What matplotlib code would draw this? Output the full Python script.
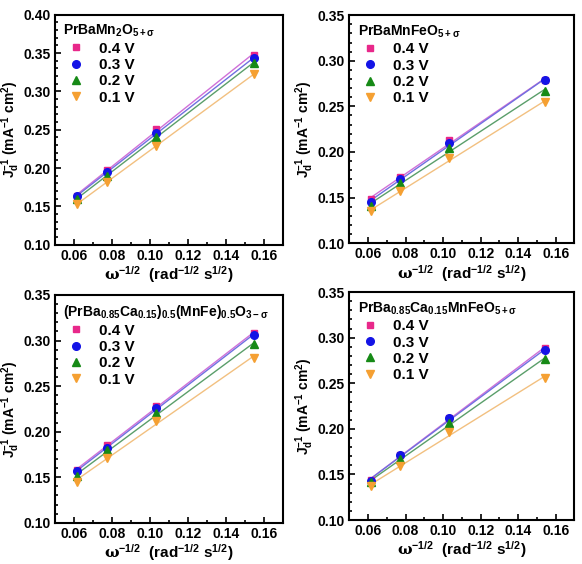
import numpy as np
import matplotlib
matplotlib.use('Agg')
import matplotlib.pyplot as plt
from matplotlib.ticker import MultipleLocator

plt.rcParams['font.family'] = ['Liberation Sans', 'DejaVu Sans']
plt.rcParams['font.weight'] = 'bold'
plt.rcParams['axes.labelweight'] = 'bold'
plt.rcParams['mathtext.fontset'] = 'custom'
plt.rcParams['mathtext.rm'] = 'Liberation Sans:bold'
plt.rcParams['mathtext.bf'] = 'Liberation Sans:bold'
plt.rcParams['mathtext.it'] = 'Liberation Sans:bold'
plt.rcParams['mathtext.sf'] = 'DejaVu Serif'

# omega^-1/2 for 2500, 1600, 900, 400 rpm
omega = [0.0618, 0.0773, 0.1030, 0.1545]
voltages = ['0.4 V', '0.3 V', '0.2 V', '0.1 V']

titles = [r'PrBaMn$_2$O$_{5+\sigma}$',
          r'PrBaMnFeO$_{5+\sigma}$',
          r'(PrBa$_{0.85}$Ca$_{0.15}$)$_{0.5}$(MnFe)$_{0.5}$O$_{3-\sigma}$',
          r'PrBa$_{0.85}$Ca$_{0.15}$MnFeO$_{5+\sigma}$']

pbm_04 = [0.164, 0.197, 0.251, 0.348]
pbm_03 = [0.163, 0.195, 0.246, 0.343]
pbm_02 = [0.160, 0.190, 0.241, 0.337]
pbm_01 = [0.153, 0.182, 0.229, 0.322]

pbmf_04 = [0.148, 0.172, 0.213, 0.279]
pbmf_03 = [0.145, 0.170, 0.210, 0.279]
pbmf_02 = [0.141, 0.166, 0.204, 0.267]
pbmf_01 = [0.135, 0.157, 0.193, 0.255]

pbcmf05_04 = [0.158, 0.185, 0.228, 0.308]
pbcmf05_03 = [0.157, 0.182, 0.226, 0.306]
pbcmf05_02 = [0.151, 0.180, 0.220, 0.296]
pbcmf05_01 = [0.145, 0.171, 0.212, 0.281]

pbcmf_04 = [0.144, 0.171, 0.212, 0.289]
pbcmf_03 = [0.143, 0.171, 0.212, 0.286]
pbcmf_02 = [0.142, 0.167, 0.206, 0.277]
pbcmf_01 = [0.137, 0.159, 0.197, 0.256]

panels = [[pbm_04, pbm_03, pbm_02, pbm_01],
          [pbmf_04, pbmf_03, pbmf_02, pbmf_01],
          [pbcmf05_04, pbcmf05_03, pbcmf05_02, pbcmf05_01],
          [pbcmf_04, pbcmf_03, pbcmf_02, pbcmf_01]]
ymax = [0.40, 0.35, 0.35, 0.35]

markers = ['s', 'o', '^', 'v']
marker_colors = ['#e8288a', '#1414e6', '#168a16', '#f5a032']
line_colors = ['#d070d8', '#7070e0', '#5a9e6a', '#f2c080']
marker_sizes = [5, 5.5, 5.5, 5.5]

positions = [[0.0945, 0.566, 0.392, 0.408],
             [0.600, 0.569, 0.387, 0.404],
             [0.0945, 0.073, 0.392, 0.404],
             [0.600, 0.078, 0.387, 0.404]]

fig = plt.figure(figsize=(5.82, 5.64), dpi=100)

for i in range(4):
    ax = fig.add_axes(positions[i])
    for series, lab, m, mc, lc, ms in zip(panels[i], voltages, markers,
                                          marker_colors, line_colors, marker_sizes):
        k, b = np.polyfit(omega, series, 1)
        xs = np.array([omega[0], omega[-1]])
        ax.plot(xs, k * xs + b, color=lc, lw=1.0, zorder=2)
        ax.plot(omega, series, ls='none', marker=m, color=mc, ms=ms,
                label=lab, zorder=3)
    ax.set_xlim(0.05, 0.17)
    ax.set_ylim(0.10, ymax[i])
    ax.xaxis.set_major_locator(MultipleLocator(0.02))
    ax.xaxis.set_minor_locator(MultipleLocator(0.01))
    ax.yaxis.set_major_locator(MultipleLocator(0.05))
    ax.yaxis.set_minor_locator(MultipleLocator(0.01))
    ax.xaxis.set_major_formatter(plt.FormatStrFormatter('%.2f'))
    ax.yaxis.set_major_formatter(plt.FormatStrFormatter('%.2f'))
    ax.tick_params(which='both', direction='in', top=False, right=False,
                   labelsize=10, width=1.2, pad=3)
    ax.tick_params(which='major', length=4)
    ax.tick_params(which='minor', length=2)
    for lbl in ax.get_xticklabels() + ax.get_yticklabels():
        lbl.set_fontweight('bold')
    for s in ax.spines.values():
        s.set_linewidth(1.5)
    ax.set_xlabel(r'$\mathsf{\omega}^{-1/2}$  (rad$^{-1/2}$ s$^{1/2}$)',
                  fontsize=11, labelpad=1, fontweight='bold')
    ax.set_ylabel(r'J$_d^{-1}$ (mA$^{-1}$ cm$^2$)', fontsize=10, labelpad=1,
                  fontweight='bold')
    leg = ax.legend(loc='upper left', frameon=False, title=titles[i],
                    fontsize=11, title_fontsize=10, alignment='left',
                    handletextpad=0.7, labelspacing=0.15,
                    borderaxespad=0.15, handlelength=1.6)
    leg.get_title().set_fontweight('bold')
    for t in leg.get_texts():
        t.set_fontweight('bold')

plt.savefig('out.png', dpi=100)
